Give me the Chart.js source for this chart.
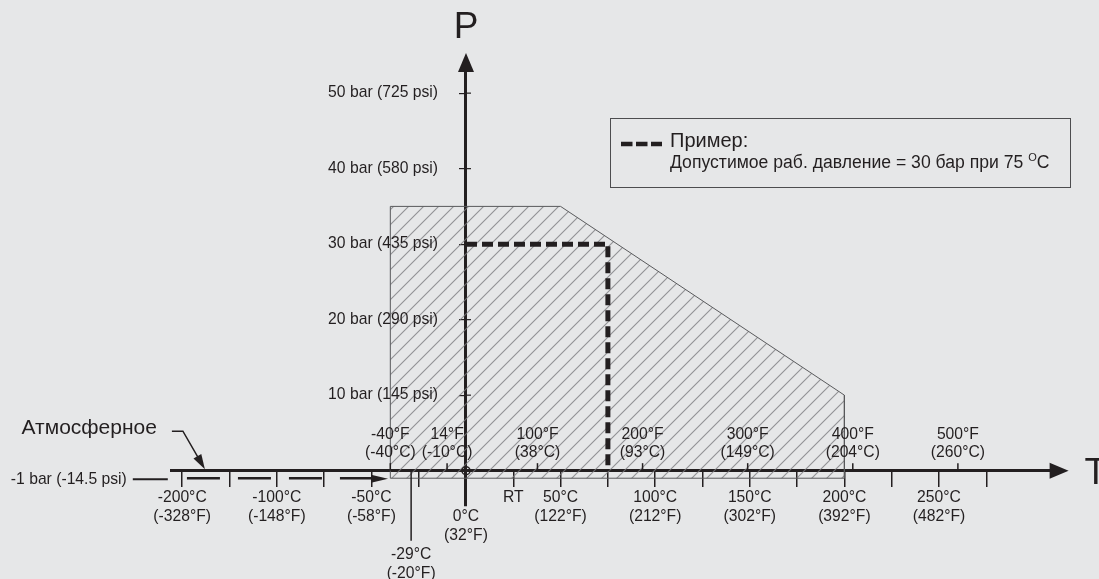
<!DOCTYPE html>
<html lang="ru">
<head>
<meta charset="UTF-8">
<title>Допустимое рабочее давление</title>
<style>
  html, body { margin: 0; padding: 0; background: #e6e7e8; }
  #wrap { width: 1099px; height: 579px; }
</style>
</head>
<body>
<div id="wrap"><canvas id="chart" width="1099" height="579"></canvas></div>
<script src="https://cdn.jsdelivr.net/npm/chart.js"></script>
<script>
// ---- data ----
// working zone outline, temperature in °C, pressure in bar
const zoneT = [-40, -40, 50, 200, 200, -40];
const zoneP = [-1, 35, 35, 10, -1, -1];
// example: 30 bar at 75 °C
const exampleT = [0, 75, 75];
const exampleP = [30, 30, 0];
// vacuum line at -1 bar, ends with an arrow at -40 °C
const vacuumT = [-147.5, -41.2];
const vacuumP = [-1, -1];

// pressure ticks (bar) and psi equivalents
const pTicks = [10, 20, 30, 40, 50];
const psiLabels = ['145', '290', '435', '580', '725'];

// °C tick marks under the axis (left part is compressed: -200 °C sits at -150)
const cTicks = [-150, -125, -100, -75, -50, -25, 0, 25, 50, 75, 100, 125, 150, 175, 200, 225, 250, 275];
const cLabelAt = [-150, -100, -50, -29, 0, 25, 50, 100, 150, 200, 250];
const cLabelText = ['-200', '-100', '-50', '-29', '0', 'RT', '50', '100', '150', '200', '250'];
// °F ticks above the axis
const fTicks = [-40, 14, 100, 200, 300, 400, 500];

const ink = '#231f20';
const fam = '"Liberation Sans", Arial, Helvetica, sans-serif';
Chart.defaults.font.family = fam;

const toF = c => Math.round(c * 9 / 5 + 32);
const toC = f => (f - 32) * 5 / 9;
const pts = (xs, ys) => xs.map((v, i) => ({x: v, y: ys[i]}));

// diagonal hatch
function hatch(ctx) {
  const s = 15;
  const c = document.createElement('canvas');
  c.width = s; c.height = s;
  const g = c.getContext('2d');
  g.strokeStyle = 'rgba(125,125,128,0.8)';
  g.lineWidth = 1.1;
  g.beginPath();
  g.moveTo(0, s); g.lineTo(s, 0);
  g.moveTo(-2, 2); g.lineTo(2, -2);
  g.moveTo(s - 2, s + 2); g.lineTo(s + 2, s - 2);
  g.stroke();
  return ctx.createPattern(c, 'repeat');
}

function arrow(ctx, tx, ty, dx, dy, len, half) {
  const n = Math.hypot(dx, dy); dx /= n; dy /= n;
  const bx = tx - dx * len, by = ty - dy * len;
  ctx.beginPath();
  ctx.moveTo(tx, ty);
  ctx.lineTo(bx - dy * half, by + dx * half);
  ctx.lineTo(bx + dy * half, by - dx * half);
  ctx.closePath();
  ctx.fill();
}

const decor = {
  id: 'decor',
  afterDraw(chart) {
    const {ctx, scales: {x, y}} = chart;
    const x0 = x.getPixelForValue(0), y0 = y.getPixelForValue(0);
    ctx.save();
    ctx.fillStyle = ink; ctx.strokeStyle = ink;

    // axis arrows and names
    arrow(ctx, x0, y.top - 19, 0, -1, 19, 8);
    arrow(ctx, x.right + 18, y0, 1, 0, 19, 8);
    ctx.font = '37px ' + fam;
    ctx.textAlign = 'center'; ctx.textBaseline = 'alphabetic';
    ctx.fillText('P', x0, 38);
    ctx.textAlign = 'left';
    ctx.fillText('T', x.right + 34, y0 + 13);

    // pressure labels
    ctx.font = '15.7px ' + fam;
    ctx.textAlign = 'right'; ctx.textBaseline = 'middle';
    ctx.lineWidth = 1.2;
    pTicks.forEach((v, i) => {
      const py = y.getPixelForValue(v);
      ctx.fillText(v + ' bar (' + psiLabels[i] + ' psi)', x0 - 28, py);
      ctx.beginPath(); ctx.moveTo(x0, py); ctx.lineTo(x0 + 5, py); ctx.stroke();
    });

    // -1 bar label
    const yv = y.getPixelForValue(-1) + 1;
    ctx.fillText('-1 bar (-14.5 psi)', x.left - 45, yv);
    ctx.lineWidth = 2;
    ctx.beginPath(); ctx.moveTo(x.left - 39, yv); ctx.lineTo(x.left - 4, yv); ctx.stroke();

    // arrow head of vacuum line
    arrow(ctx, x.getPixelForValue(vacuumT[1]), y.getPixelForValue(-1) + 0.5, 1, 0, 17, 4);

    // °C labels under the axis
    ctx.textAlign = 'center';
    const rowShift = {'0': 1, '-29': 3};
    cLabelAt.forEach((v, i) => {
      const px = x.getPixelForValue(v);
      const t = cLabelText[i];
      const lines = t === 'RT' ? ['RT'] : [t + '°C', '(' + toF(+t) + '°F)'];
      const r = rowShift[t] || 0;
      lines.forEach((ln, k) => ctx.fillText(ln, px, y0 + 26.6 + (r + k) * 19));
    });
    // long tick for -29 °C
    ctx.lineWidth = 1.5;
    const p29 = x.getPixelForValue(-29);
    ctx.beginPath(); ctx.moveTo(p29, y0); ctx.lineTo(p29, y0 + 70); ctx.stroke();

    // °F labels and ticks above the axis
    fTicks.forEach(f => {
      const c = toC(f);
      const px = x.getPixelForValue(c);
      ctx.fillText(f + '°F', px, y0 - 35.5);
      ctx.fillText('(' + Math.round(c) + '°C)', px, y0 - 17.5);
      ctx.beginPath(); ctx.moveTo(px, y0); ctx.lineTo(px, y0 - 7.5); ctx.stroke();
    });

    // "Атмосферное" pointer
    const ax = x.getPixelForValue(-138), ay = y0 - 1.5;
    ctx.lineWidth = 1.5;
    ctx.beginPath();
    ctx.moveTo(ax - 33, ay - 38); ctx.lineTo(ax - 22, ay - 38); ctx.lineTo(ax - 3, ay - 5);
    ctx.stroke();
    arrow(ctx, ax, ay, 22, 38, 15, 4.5);
    ctx.font = '21px ' + fam;
    ctx.textAlign = 'right';
    ctx.fillText('Атмосферное', ax - 48, ay - 41);

    // legend box
    ctx.lineWidth = 1;
    ctx.strokeStyle = '#4d4d4f';
    ctx.strokeRect(610.5, 118.5, 460, 69);
    ctx.strokeStyle = ink;
    ctx.lineWidth = 4.5;
    ctx.setLineDash([11.5, 3.5]);
    ctx.beginPath(); ctx.moveTo(621, 144); ctx.lineTo(662, 144); ctx.stroke();
    ctx.setLineDash([]);
    ctx.textAlign = 'left'; ctx.textBaseline = 'alphabetic';
    ctx.font = '20px ' + fam;
    ctx.fillText('Пример:', 670, 147);
    ctx.font = '17.6px ' + fam;
    const line2 = 'Допустимое раб. давление = 30 бар при 75 ';
    ctx.fillText(line2, 670, 168);
    let lx = 670 + ctx.measureText(line2).width;
    ctx.font = '11px ' + fam;
    ctx.fillText('O', lx, 161);
    lx += ctx.measureText('O').width;
    ctx.font = '17.6px ' + fam;
    ctx.fillText('C', lx, 168);
    ctx.restore();
  }
};

const ctx = document.getElementById('chart').getContext('2d');
new Chart(ctx, {
  type: 'scatter',
  data: {
    datasets: [
      {
        label: 'origin', data: [{x: 0, y: 0}], order: 0,
        pointRadius: 4, pointBorderWidth: 1.5, pointBorderColor: ink, pointBackgroundColor: 'rgba(0,0,0,0)'
      },
      {
        label: 'Пример', data: pts(exampleT, exampleP), order: 1, showLine: true,
        borderColor: ink, borderWidth: 5, borderDash: [11, 5], borderCapStyle: 'butt',
        borderJoinStyle: 'miter', pointRadius: 0, fill: false
      },
      {
        label: 'vacuum', data: pts(vacuumT, vacuumP), order: 2, showLine: true,
        borderColor: ink, borderWidth: 2.5, borderDash: [33, 18], pointRadius: 0, fill: false
      },
      {
        label: 'zone', data: pts(zoneT, zoneP), order: 3, showLine: true,
        fill: 'shape', backgroundColor: hatch(ctx), borderColor: '#58595b', borderWidth: 1,
        pointRadius: 0, tension: 0
      }
    ]
  },
  options: {
    responsive: false,
    animation: false,
    devicePixelRatio: 1,
    events: [],
    layout: { padding: { left: 171.8, right: 48.4, top: 72, bottom: 73.6 } },
    plugins: { legend: { display: false }, tooltip: { enabled: false } },
    scales: {
      x: {
        type: 'linear', min: -155.5, max: 309, position: { y: 0 }, z: 1,
        border: { display: true, color: ink, width: 3 },
        grid: { drawOnChartArea: false, tickLength: 15, color: ink, lineWidth: 1.5 },
        ticks: { display: false },
        afterBuildTicks: s => { s.ticks = cTicks.map(v => ({value: v})); }
      },
      y: {
        type: 'linear', min: -4.6, max: 52.8, position: { x: 0 }, z: 1,
        border: { display: true, color: ink, width: 3 },
        grid: { drawOnChartArea: false, tickLength: 5, color: ink, lineWidth: 1.2 },
        ticks: { display: false },
        afterBuildTicks: s => { s.ticks = pTicks.map(v => ({value: v})); }
      }
    }
  },
  plugins: [decor]
});
</script>
</body>
</html>
